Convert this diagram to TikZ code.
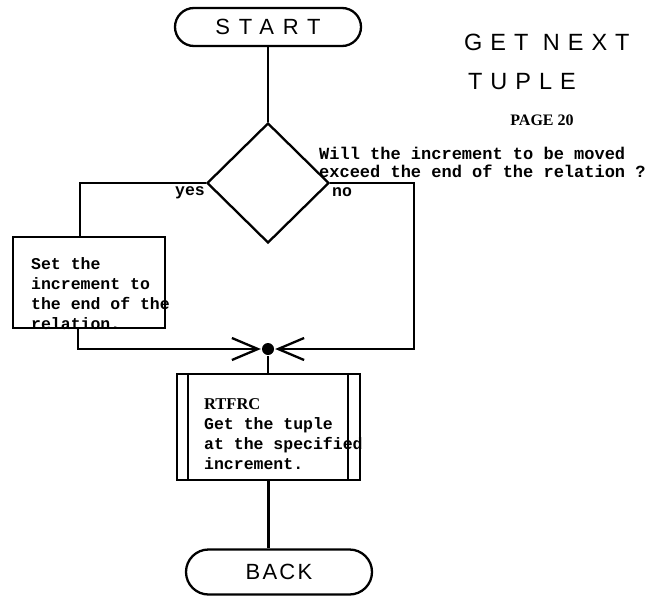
\documentclass[tikz,border=0pt]{standalone}
\usepackage{fontspec}
\newfontfamily\typefont{Liberation Mono}
\newfontfamily\termfont{Liberation Sans}
\newfontfamily\stampfont{Liberation Serif}
\usetikzlibrary{positioning,arrows.meta,shapes.geometric,shapes.misc}

\begin{document}
\begin{tikzpicture}[
        x=1pt, y=-1pt,
        line width=2.3pt,
        every node/.style={inner sep=0pt},
        term/.style={draw, rounded rectangle, minimum width=186pt, font=\termfont\fontsize{22}{24}\selectfont},
        decision/.style={draw, diamond, minimum width=122pt, minimum height=120pt},
        procbox/.style={draw},
        txt/.style={align=left, anchor=north west, font=\typefont\bfseries\fontsize{16.5}{20}\selectfont},
        titletxt/.style={anchor=west, font=\termfont\fontsize{23.5}{26}\selectfont},
        arrow/.style={-{Straight Barb[length=26pt,width=22pt]}},
        dot/.style={circle, fill, minimum size=12pt}
    ]
        \useasboundingbox (0,0) rectangle (652,596);

        % Heading
        \node[titletxt] (title1) at (463,42) {\addfontfeature{LetterSpace=34}GET NEXT};
        \node[titletxt] (title2) at (467,82) {\addfontfeature{LetterSpace=34}TUPLE};
        \node[font=\stampfont\bfseries\fontsize{16}{18}\selectfont] (page) at (542,120) {PAGE 20};

        % Start and test
        \node[term, minimum height=38pt] (start) at (268,27) {\addfontfeature{LetterSpace=40}START};
        \node[decision] (cond) at (268,183) {};
        \node[txt, font=\typefont\bfseries\fontsize{17}{18}\selectfont] (question) at (318,146)
            {Will the increment to be moved\\exceed the end of the relation ?};
        \node[txt, anchor=center] (yes) at (190,193) {yes};
        \node[txt, anchor=center] (no) at (342,192) {no};

        % Yes branch
        \node[procbox, minimum width=152pt, minimum height=91pt] (setinc) at (89,282.5) {};
        \node[txt] (setinctxt) at (30,256) {Set the\\increment to\\the end of the\\relation.};

        % Merge point
        \node[dot] (junct) at (268,349) {};
        \coordinate (lturn) at (80,183);
        \coordinate (rturn) at (414,349);

        % Fetch the tuple
        \node[procbox, minimum width=183pt, minimum height=106pt] (rtfrc) at (268.5,427) {};
        \draw ([xshift=12pt]rtfrc.north west) -- ([xshift=12pt]rtfrc.south west);
        \draw ([xshift=-13pt]rtfrc.north east) -- ([xshift=-13pt]rtfrc.south east);
        \node[txt] (rtfrctxt) at (203,397)
            {{\stampfont RTFRC}\\Get the tuple\\at the specified\\increment.};

        % End
        \node[term, minimum height=45pt] (back) at (279,572) {\addfontfeature{LetterSpace=10}BACK};

        % Connectors
        \draw (start.south) -- (cond.north);
        \draw (cond.west) -- (lturn) -- (lturn |- setinc.north);
        \draw[arrow] ([xshift=-11pt]setinc.south) |- (junct);
        \draw[arrow] (cond.east) -| (rturn) -- (junct);
        \draw (junct) -- (junct |- rtfrc.north);
        \draw (rtfrc.south) -- (rtfrc.south |- back.north);
    \end{tikzpicture}
\end{document}
